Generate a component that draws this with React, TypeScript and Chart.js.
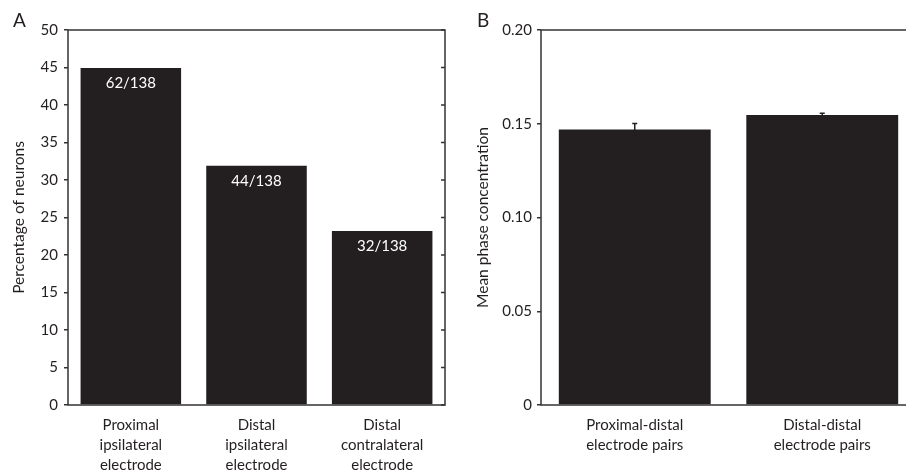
import React, { useEffect, useRef } from "react";
import { Chart, registerables } from "chart.js";

Chart.register(...registerables);

const INK = "#231f20";
const FONT = "Lato, 'Open Sans', sans-serif";

// Panel A: share of neurons per electrode site
const regionLabels = [
  ["Proximal", "ipsilateral", "electrode"],
  ["Distal", "ipsilateral", "electrode"],
  ["Distal", "contralateral", "electrode"],
];
const neuronCounts = [62, 44, 32];
const neuronTotal = 138;
const percentMax = 50;
const percentStep = 5;

// Panel B: mean phase concentration per electrode pairing
const pairLabels = [
  ["Proximal-distal", "electrode pairs"],
  ["Distal-distal", "electrode pairs"],
];
const meanConcentration = [0.147, 0.1547];
const concentrationErr = [0.0032, 0.0009];
const concentrationMax = 0.2;
const concentrationStep = 0.05;

const percentValues = neuronCounts.map((n) => (n / neuronTotal) * 100);
const countLabels = neuronCounts.map((n) => `${n}/${neuronTotal}`);

// Frame around the plot area, optional inward ticks on the right, panel letter
const framePlugin = {
  id: "frame",
  afterDatasetsDraw(chart: any, _args: any, opts: any) {
    const { ctx, chartArea } = chart;
    const { left, top, right, bottom } = chartArea;
    ctx.save();
    ctx.strokeStyle = "#333";
    ctx.lineWidth = 1.5;
    ctx.strokeRect(left, top, right - left, bottom - top);
    if (opts.rightTicks) {
      const y = chart.scales.y;
      ctx.beginPath();
      y.ticks.forEach((t: any) => {
        const py = y.getPixelForValue(t.value);
        ctx.moveTo(right - 4, py);
        ctx.lineTo(right, py);
      });
      ctx.stroke();
    }
    if (opts.letter) {
      ctx.fillStyle = INK;
      ctx.font = `19px ${FONT}`;
      ctx.textBaseline = "alphabetic";
      ctx.textAlign = "left";
      ctx.fillText(opts.letter, opts.letterX, 27);
    }
    ctx.restore();
  },
};

// White count labels inside the bars
const countLabelPlugin = {
  id: "countLabels",
  afterDatasetsDraw(chart: any, _args: any, opts: any) {
    if (!opts.labels) return;
    const { ctx } = chart;
    const meta = chart.getDatasetMeta(0);
    ctx.save();
    ctx.fillStyle = "#ffffff";
    ctx.font = `15px ${FONT}`;
    ctx.textAlign = "center";
    ctx.textBaseline = "middle";
    meta.data.forEach((bar: any, i: number) => {
      ctx.fillText(opts.labels[i], bar.x, bar.y + 15);
    });
    ctx.restore();
  },
};

// Error bars on top of each bar
const errorBarPlugin = {
  id: "errorBars",
  afterDatasetsDraw(chart: any, _args: any, opts: any) {
    if (!opts.errors) return;
    const { ctx } = chart;
    const y = chart.scales.y;
    const meta = chart.getDatasetMeta(0);
    const values = chart.data.datasets[0].data;
    ctx.save();
    ctx.strokeStyle = INK;
    ctx.lineWidth = 1.5;
    meta.data.forEach((bar: any, i: number) => {
      const hi = y.getPixelForValue(values[i] + opts.errors[i]);
      const lo = y.getPixelForValue(values[i] - opts.errors[i]);
      ctx.beginPath();
      ctx.moveTo(bar.x, lo);
      ctx.lineTo(bar.x, hi);
      ctx.moveTo(bar.x - 2.5, hi);
      ctx.lineTo(bar.x + 2.5, hi);
      ctx.stroke();
    });
    ctx.restore();
  },
};

function makeConfig(p: {
  labels: string[][];
  data: number[];
  max: number;
  step: number;
  title: string;
  axisWidth: number;
  padRight: number;
  titlePad: number;
  labelPad: number;
  barPct: number;
  tickFmt: (v: number) => string;
  letter: string;
  letterX: number;
  rightTicks: boolean;
  countLabels?: string[];
  errors?: number[];
}): any {
  return {
    type: "bar",
    data: {
      labels: p.labels,
      datasets: [
        {
          data: p.data,
          backgroundColor: INK,
          borderWidth: 0,
          barPercentage: p.barPct,
          categoryPercentage: 1,
        },
      ],
    },
    options: {
      animation: false,
      responsive: false,
      maintainAspectRatio: false,
      layout: { padding: { top: 30, right: p.padRight, left: 0, bottom: 0 } },
      plugins: {
        legend: { display: false },
        tooltip: { enabled: false },
        frame: { letter: p.letter, letterX: p.letterX, rightTicks: p.rightTicks },
        countLabels: { labels: p.countLabels },
        errorBars: { errors: p.errors },
      },
      scales: {
        x: {
          grid: { display: false },
          border: { display: false },
          ticks: {
            color: INK,
            font: { family: FONT, size: 15, lineHeight: 1.33 },
            padding: 2,
            maxRotation: 0,
            autoSkip: false,
          },
          afterFit: (s: any) => {
            s.height = 68;
          },
        },
        y: {
          min: 0,
          max: p.max,
          border: { display: false },
          grid: {
            drawOnChartArea: false,
            drawTicks: true,
            tickLength: 4,
            color: "#333",
            lineWidth: 1.5,
          },
          ticks: {
            stepSize: p.step,
            color: INK,
            font: { family: FONT, size: 15 },
            padding: p.labelPad,
            callback: (v: any) => p.tickFmt(Number(v)),
          },
          title: {
            display: true,
            text: p.title,
            color: INK,
            font: { family: FONT, size: 15.5 },
            padding: { top: p.titlePad, bottom: 0 },
          },
          afterFit: (s: any) => {
            s.width = p.axisWidth;
          },
        },
      },
    },
    plugins: [framePlugin, countLabelPlugin, errorBarPlugin],
  };
}

function Panel(props: { cfg: any; left: number; width: number }) {
  const ref = useRef<HTMLCanvasElement>(null);
  useEffect(() => {
    if (!ref.current) return;
    const chart = new Chart(ref.current, props.cfg);
    return () => chart.destroy();
  }, []);
  return (
    <canvas
      ref={ref}
      width={props.width}
      height={473}
      style={{ position: "absolute", left: props.left, top: 0, width: props.width, height: 473 }}
    />
  );
}

const cfgA = makeConfig({
  labels: regionLabels,
  data: percentValues,
  max: percentMax,
  step: percentStep,
  title: "Percentage of neurons",
  axisWidth: 68,
  padRight: 8,
  titlePad: 10,
  labelPad: 6,
  barPct: 0.8,
  tickFmt: (v) => String(v),
  letter: "A",
  letterX: 13,
  rightTicks: true,
  countLabels,
});

const cfgB = makeConfig({
  labels: pairLabels,
  data: meanConcentration,
  max: concentrationMax,
  step: concentrationStep,
  title: "Mean phase concentration",
  axisWidth: 76,
  padRight: 10,
  titlePad: 9,
  labelPad: 5,
  barPct: 0.81,
  tickFmt: (v) => (Math.abs(v) < 1e-9 ? "0" : v.toFixed(2)),
  letter: "B",
  letterX: 12,
  rightTicks: false,
  errors: concentrationErr,
});

export default function App() {
  return (
    <div
      style={{
        position: "fixed",
        left: 0,
        top: 0,
        width: 906,
        height: 473,
        overflow: "hidden",
        background: "#ffffff",
      }}
    >
      <Panel cfg={cfgA} left={0} width={453} />
      <Panel cfg={cfgB} left={465} width={461} />
    </div>
  );
}
